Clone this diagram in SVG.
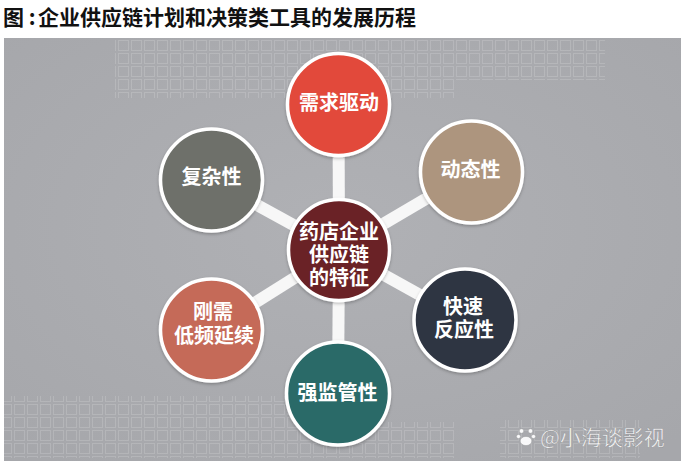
<svg xmlns="http://www.w3.org/2000/svg" width="683" height="461" viewBox="0 0 683 461">
  <defs>
    <radialGradient id="bg" cx="0.5" cy="0.45" r="0.7">
      <stop offset="0" stop-color="#b0b1b5"/>
      <stop offset="1" stop-color="#a6a7ab"/>
    </radialGradient>
    <pattern id="sq" width="13" height="13" patternUnits="userSpaceOnUse">
      <rect x="1.5" y="1.5" width="10" height="10" fill="none" stroke="#ffffff" stroke-width="1"/>
    </pattern>
    <filter id="sh" x="-20%" y="-20%" width="140%" height="140%">
      <feDropShadow dx="0" dy="1.5" stdDeviation="1.5" flood-color="#000" flood-opacity="0.25"/>
    </filter>
    <style>
      .title { font-family: "Noto Sans CJK SC", "Noto Sans", sans-serif; font-weight: 700; font-size: 21px; fill: #111111; }
      .node circle { stroke: #ffffff; stroke-width: 3.5; filter: url(#sh); }
      .node text { font-family: "Noto Sans CJK SC", "Noto Sans", sans-serif; font-weight: 700; font-size: 20px; fill: #ffffff; text-anchor: middle; }
      .conn line { stroke: #f7f7f7; stroke-width: 12; stroke-linecap: butt; }
      .wm { font-family: "Noto Sans CJK SC", "Noto Sans", sans-serif; font-size: 21px; fill: #ffffff; fill-opacity: 0.92; stroke: #8c8d91; stroke-width: 0.4; }
    </style>
  </defs>

  <rect x="0" y="0" width="683" height="461" fill="#ffffff"/>
  <text class="title" x="3" y="24.5">图 :<tspan x="38">企业供应链计划和决策类工具的发展历程</tspan></text>

  <rect x="4" y="38" width="677" height="423" fill="url(#bg)"/>
  <g opacity="0.15">
    <rect x="115" y="38" width="340" height="60" fill="url(#sq)"/>
    <rect x="455" y="38" width="150" height="42" fill="url(#sq)"/>
    <rect x="4" y="396" width="300" height="62" fill="url(#sq)"/>
    <rect x="304" y="422" width="150" height="36" fill="url(#sq)"/>
    <rect x="500" y="420" width="140" height="38" fill="url(#sq)"/>
  </g>

  <g id="connectors" class="conn">
    <line x1="339" y1="250" x2="338.5" y2="104.5"/>
    <line x1="339" y1="250" x2="211.5" y2="180"/>
    <line x1="339" y1="250" x2="471.5" y2="172"/>
    <line x1="339" y1="250" x2="211.5" y2="330"/>
    <line x1="339" y1="250" x2="465" y2="320"/>
    <line x1="339" y1="250" x2="338" y2="393.5"/>
  </g>

  <g id="node-demand" class="node">
    <circle cx="338.5" cy="104.5" r="51" fill="#e24a3b"/>
    <text x="339" y="110">需求驱动</text>
  </g>
  <g id="node-complex" class="node">
    <circle cx="211.5" cy="180" r="51" fill="#6e706b"/>
    <text x="211.5" y="184">复杂性</text>
  </g>
  <g id="node-dynamic" class="node">
    <circle cx="471.5" cy="172" r="51" fill="#ad957e"/>
    <text x="470.5" y="177">动态性</text>
  </g>
  <g id="node-center" class="node">
    <circle cx="339" cy="250" r="50.5" fill="#6b2327"/>
    <text x="339" y="238.5">药店企业<tspan x="339" dy="23">供应链</tspan><tspan x="339" dy="23">的特征</tspan></text>
  </g>
  <g id="node-rigid" class="node">
    <circle cx="211.5" cy="330" r="51" fill="#c56a59"/>
    <text x="213" y="319">刚需<tspan x="214" dy="24">低频延续</tspan></text>
  </g>
  <g id="node-fast" class="node">
    <circle cx="465" cy="320" r="51" fill="#2f3543"/>
    <text x="463" y="313.5">快速<tspan x="464" dy="23.5">反应性</tspan></text>
  </g>
  <g id="node-regulation" class="node">
    <circle cx="338" cy="393.5" r="51.5" fill="#2c6a68"/>
    <text x="337.5" y="400">强监管性</text>
  </g>

  <g id="watermark">
    <g fill="#ffffff" fill-opacity="0.92" stroke="#8c8d91" stroke-width="0.4">
      <circle cx="521.5" cy="431" r="2.3"/>
      <circle cx="530.5" cy="431" r="2.3"/>
      <circle cx="518.5" cy="436.5" r="2.1"/>
      <circle cx="533.5" cy="436.5" r="2.1"/>
      <ellipse cx="526" cy="441" rx="5.8" ry="4.6"/>
    </g>
    <text class="wm" x="540" y="445">@小海谈影视</text>
  </g>
</svg>
